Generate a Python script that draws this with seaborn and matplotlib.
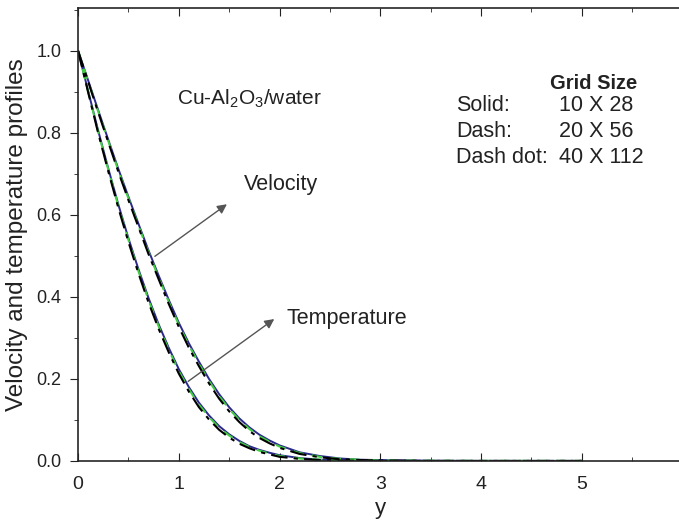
import numpy as np
import pandas as pd
import seaborn as sns
import matplotlib.pyplot as plt
from matplotlib.ticker import MultipleLocator

# data
y_pos = [0.0, 0.1, 0.2, 0.3, 0.4, 0.5, 0.6, 0.7, 0.8, 0.9, 1.0,
         1.1, 1.2, 1.3, 1.4, 1.5, 1.6, 1.7, 1.8, 1.9, 2.0,
         2.2, 2.4, 2.6, 2.8, 3.0, 3.5, 4.0, 4.5, 5.0]

vel_solid = [1.000, 0.928, 0.855, 0.783, 0.712, 0.644, 0.578, 0.513, 0.452, 0.393, 0.337,
             0.287, 0.242, 0.200, 0.163, 0.131, 0.104, 0.082, 0.064, 0.050, 0.038,
             0.021, 0.012, 0.006, 0.003, 0.002, 0.0005, 0.0, 0.0, 0.0]
vel_dash = [1.000, 0.926, 0.852, 0.780, 0.708, 0.640, 0.573, 0.508, 0.447, 0.388, 0.332,
            0.282, 0.237, 0.195, 0.158, 0.127, 0.100, 0.078, 0.060, 0.047, 0.035,
            0.019, 0.010, 0.005, 0.003, 0.001, 0.0003, 0.0, 0.0, 0.0]
vel_dashdot = [1.000, 0.925, 0.850, 0.777, 0.705, 0.636, 0.570, 0.504, 0.443, 0.383, 0.327,
               0.276, 0.231, 0.189, 0.152, 0.121, 0.095, 0.073, 0.056, 0.043, 0.032,
               0.017, 0.009, 0.004, 0.002, 0.001, 0.0, 0.0, 0.0, 0.0]

temp_solid = [1.000, 0.902, 0.805, 0.713, 0.625, 0.543, 0.467, 0.397, 0.333, 0.276, 0.224,
              0.180, 0.142, 0.111, 0.085, 0.065, 0.049, 0.036, 0.027, 0.020, 0.014,
              0.007, 0.003, 0.0015, 0.0007, 0.0003, 0.0, 0.0, 0.0, 0.0]
temp_dash = [1.000, 0.900, 0.802, 0.710, 0.621, 0.539, 0.462, 0.392, 0.328, 0.271, 0.219,
             0.175, 0.137, 0.107, 0.081, 0.062, 0.046, 0.034, 0.025, 0.018, 0.012,
             0.006, 0.003, 0.001, 0.0005, 0.0002, 0.0, 0.0, 0.0, 0.0]
temp_dashdot = [1.000, 0.899, 0.799, 0.706, 0.617, 0.534, 0.457, 0.386, 0.322, 0.265, 0.213,
                0.169, 0.131, 0.101, 0.076, 0.057, 0.042, 0.031, 0.022, 0.016, 0.010,
                0.005, 0.002, 0.001, 0.0003, 0.0001, 0.0, 0.0, 0.0, 0.0]

grid_styles = ['Solid:', 'Dash:', 'Dash dot:']
grid_sizes = ['10 X 28', '20 X 56', '40 X 112']

sns.set_style('ticks')
plt.rcParams['font.family'] = ['Liberation Sans', 'DejaVu Sans']
plt.rcParams['mathtext.fontset'] = 'custom'
plt.rcParams['mathtext.rm'] = 'Liberation Sans'
plt.rcParams['mathtext.it'] = 'Liberation Sans'

fig = plt.figure(figsize=(6.79, 5.22), dpi=100)
ax = fig.add_axes([0.115, 0.117, 0.89, 0.868])

for vals in [vel_solid, temp_solid]:
    sns.lineplot(x=y_pos, y=vals, ax=ax, color='#2a2a8a', linewidth=1.4)
for vals in [vel_dash, temp_dash]:
    sns.lineplot(x=y_pos, y=vals, ax=ax, color='#44cc44', linewidth=1.5, linestyle=(0, (5, 4)))
for vals in [vel_dashdot, temp_dashdot]:
    sns.lineplot(x=y_pos, y=vals, ax=ax, color='black', linewidth=1.5, linestyle=(0, (8, 3, 2, 3)))

ax.set_xlim(0, 6.0)
ax.set_ylim(0, 1.105)
ax.set_xticks([0, 1, 2, 3, 4, 5])
ax.xaxis.set_minor_locator(MultipleLocator(0.5))
ax.set_yticks([0.0, 0.2, 0.4, 0.6, 0.8, 1.0])
ax.yaxis.set_minor_locator(MultipleLocator(0.1))
ax.tick_params(axis='x', which='both', direction='in', top=True, labelsize=14, colors='#222222', pad=11)
ax.tick_params(axis='x', which='major', length=6)
ax.tick_params(axis='x', which='minor', length=3)
ax.tick_params(axis='y', which='both', direction='out', labelsize=13, colors='#222222', pad=6)
ax.tick_params(axis='y', which='major', length=6)
ax.tick_params(axis='y', which='minor', length=3)
ax.set_yticklabels(['0.0', '0.2', '0.4', '0.6', '0.8', '1.0'])
for s in ax.spines.values():
    s.set_linewidth(1.2)

ax.set_xlabel('y', fontsize=16, color='#222222')
ax.xaxis.label.set_va('baseline')
ax.xaxis.set_label_coords(0.5, -0.117)
ax.set_ylabel('Velocity and temperature profiles', fontsize=17.5, color='#222222')
ax.yaxis.label.set_va('center')
ax.yaxis.set_label_coords(-0.101, 0.5)

ax.text(0.98, 0.882, r'Cu-Al$_2$O$_3$/water', fontsize=15, va='center', color='#222222')

ax.annotate('', xy=(1.5, 0.63), xytext=(0.74, 0.495),
            arrowprops=dict(arrowstyle='-|>', color='#555555', lw=1.0, mutation_scale=14))
ax.text(1.65, 0.675, 'Velocity', fontsize=15.5, va='center', color='#222222')
ax.annotate('', xy=(1.97, 0.35), xytext=(1.07, 0.19),
            arrowprops=dict(arrowstyle='-|>', color='#555555', lw=1.0, mutation_scale=14))
ax.text(2.07, 0.347, 'Temperature', fontsize=15.5, va='center', color='#222222')

ax.text(5.12, 0.92, 'Grid Size', fontsize=14.5, fontweight='bold', ha='center', va='center', color='#222222')
for i, (st, gs) in enumerate(zip(grid_styles, grid_sizes)):
    yy = 0.868 - i * 0.0635
    ax.text(3.75, yy, st, fontsize=15.5, va='center', color='#222222')
    ax.text(4.77, yy, gs, fontsize=15.5, va='center', color='#222222')

fig.savefig('out.png', dpi=100)
